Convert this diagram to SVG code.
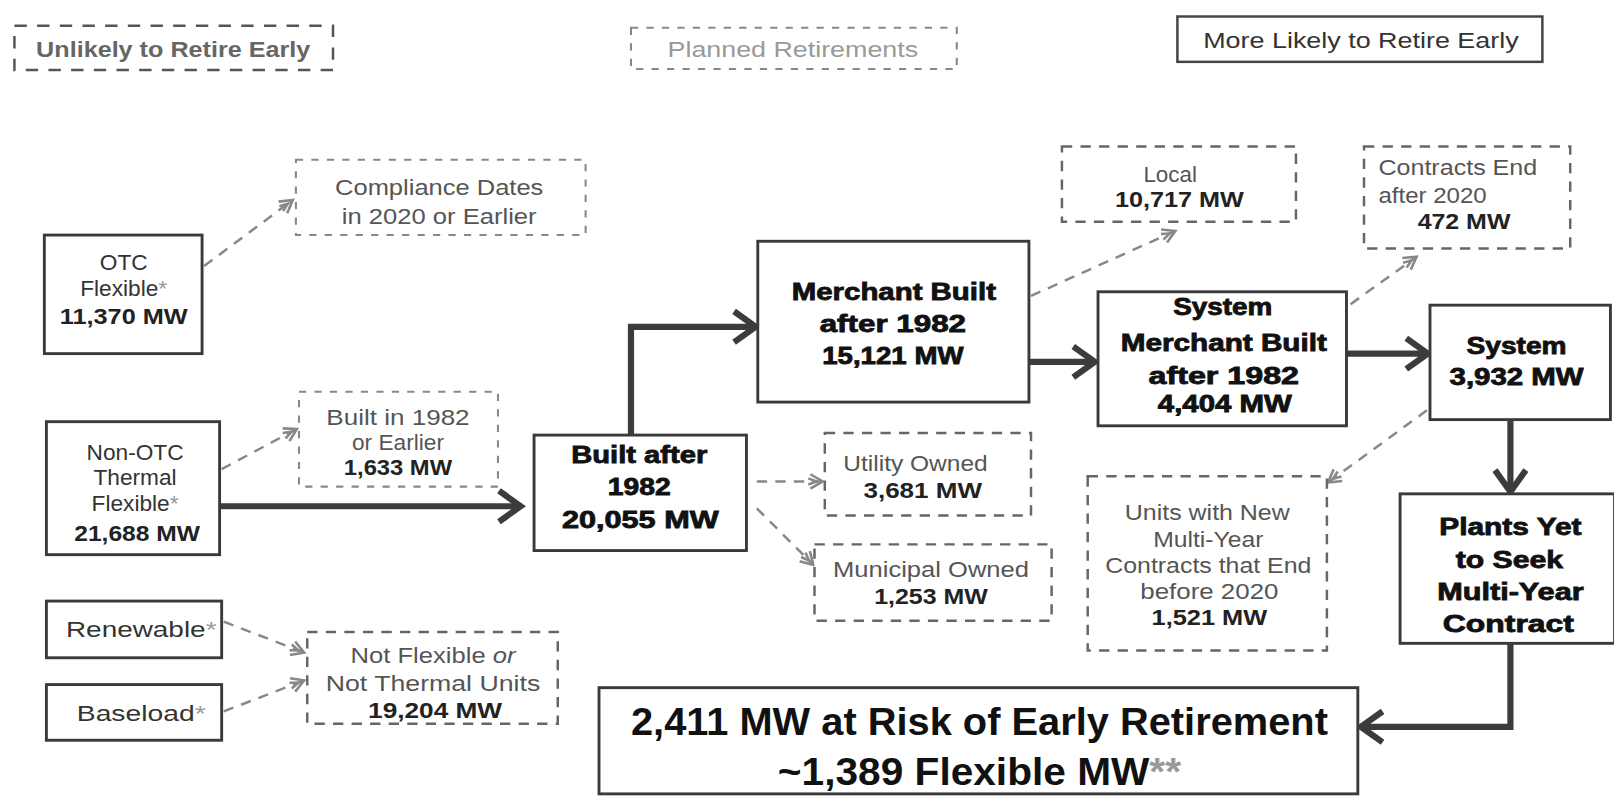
<svg xmlns="http://www.w3.org/2000/svg" width="1614" height="803" viewBox="0 0 1614 803">
<style>
text{font-family:"Liberation Sans",Arial,sans-serif;text-anchor:middle}
.solid{fill:#fff;stroke:#3a3a3a;stroke-width:2.8}
.dash{fill:#fff;stroke:#666;stroke-width:2.4;stroke-dasharray:10 8}
.dashl{fill:#fff;stroke:#888;stroke-width:2;stroke-dasharray:7 8}
.b{font-weight:bold;fill:#111;font-size:23px;stroke:#111;stroke-width:0.8}
.g{fill:#555;font-size:22px}
.gb{fill:#222;font-size:22px;font-weight:bold}
.n{fill:#333;font-size:22px}
.ast{fill:#999;stroke:none}
.thick{fill:none;stroke:#3c3c3c;stroke-width:6}
.dl{fill:none;stroke:#888;stroke-width:2.4;stroke-dasharray:10 8}
</style>
<defs>
<marker id="ah" markerUnits="userSpaceOnUse" markerWidth="30" markerHeight="36" refX="25" refY="18" orient="auto">
<path d="M4,3 L25,18 L4,33" fill="none" stroke="#3c3c3c" stroke-width="6"/>
</marker>
<marker id="dh" markerUnits="userSpaceOnUse" markerWidth="20" markerHeight="20" refX="15" refY="10" orient="auto">
<path d="M3,3 L15,10 L3,17 M1,7 L9,10 L1,13" fill="none" stroke="#888" stroke-width="2.5"/>
</marker>
</defs>
<g transform="scale(1.031)">
<g id="legend-unlikely">
<rect x="14" y="25" width="309" height="43" fill="#fff" stroke="#555" stroke-width="2.4" stroke-dasharray="12 10"/>
<text x="168" y="55" textLength="266" lengthAdjust="spacingAndGlyphs" style="font-size:22px;font-weight:bold;fill:#666">Unlikely to Retire Early</text>
</g>
<g id="legend-planned">
<rect class="dashl" x="612" y="27" width="316" height="40"/>
<text x="769" y="55" textLength="243" lengthAdjust="spacingAndGlyphs" style="font-size:22px;fill:#999">Planned Retirements</text>
</g>
<g id="legend-likely">
<rect x="1142" y="16" width="354" height="44" fill="#fff" stroke="#444" stroke-width="2.4"/>
<text x="1320" y="47" textLength="306" lengthAdjust="spacingAndGlyphs" style="font-size:22px;fill:#333">More Likely to Retire Early</text>
</g>

<g id="connectors">
<line class="dl" x1="198" y1="258" x2="284" y2="194" marker-end="url(#dh)"/>
<line class="dl" x1="215" y1="455" x2="288" y2="416" marker-end="url(#dh)"/>
<line class="thick" x1="213" y1="491" x2="505" y2="491" marker-end="url(#ah)"/>
<polyline class="thick" points="612,422 612,317 733,317" marker-end="url(#ah)"/>
<line class="dl" x1="1000" y1="287" x2="1140" y2="224" marker-end="url(#dh)"/>
<line class="thick" x1="998" y1="351" x2="1062" y2="351" marker-end="url(#ah)"/>
<line class="dl" x1="1310" y1="295" x2="1374" y2="249" marker-end="url(#dh)"/>
<line class="thick" x1="1306" y1="343" x2="1385" y2="343" marker-end="url(#ah)"/>
<line class="dl" x1="1384" y1="398" x2="1288" y2="468" marker-end="url(#dh)"/>
<line class="thick" x1="1465" y1="407" x2="1465" y2="477" marker-end="url(#ah)"/>
<polyline class="thick" points="1465,624 1465,705 1320,705" marker-end="url(#ah)"/>
<line class="dl" x1="734" y1="467" x2="798" y2="467" marker-end="url(#dh)"/>
<line class="dl" x1="734" y1="493" x2="789" y2="548" marker-end="url(#dh)"/>
<line class="dl" x1="217" y1="603" x2="295" y2="633" marker-end="url(#dh)"/>
<line class="dl" x1="217" y1="690" x2="295" y2="660" marker-end="url(#dh)"/>
</g>

<g id="compliance">
<rect class="dashl" x="287" y="155" width="281" height="73"/>
<text class="g" x="426" y="189" textLength="202" lengthAdjust="spacingAndGlyphs">Compliance  Dates</text>
<text class="g" x="426" y="217" textLength="189" lengthAdjust="spacingAndGlyphs">in 2020 or Earlier</text>
</g>
<g id="otc">
<rect class="solid" x="43" y="228" width="153" height="115"/>
<text class="n" x="120" y="262">OTC</text>
<text class="n" x="120" y="287">Flexible<tspan class="ast">*</tspan></text>
<text class="gb" x="120" y="314" textLength="124" lengthAdjust="spacingAndGlyphs">11,370 MW</text>
</g>
<g id="built1982">
<rect class="dashl" x="290" y="380" width="193" height="92"/>
<text class="g" x="386" y="412" textLength="139" lengthAdjust="spacingAndGlyphs">Built in 1982</text>
<text class="g" x="386" y="436">or Earlier</text>
<text class="gb" x="386" y="461" textLength="105" lengthAdjust="spacingAndGlyphs">1,633 MW</text>
</g>
<g id="nonotc">
<rect class="solid" x="45" y="409" width="168" height="129"/>
<text class="n" x="131" y="446">Non-OTC</text>
<text class="n" x="131" y="470">Thermal</text>
<text class="n" x="131" y="496">Flexible<tspan class="ast">*</tspan></text>
<text class="gb" x="133" y="525" textLength="122" lengthAdjust="spacingAndGlyphs">21,688 MW</text>
</g>
<g id="builtafter">
<rect class="solid" x="518" y="422" width="206" height="112"/>
<text class="b" x="620" y="449" textLength="132" lengthAdjust="spacingAndGlyphs">Built after</text>
<text class="b" x="620" y="480" textLength="61" lengthAdjust="spacingAndGlyphs">1982</text>
<text class="b" x="621" y="512" textLength="152" lengthAdjust="spacingAndGlyphs">20,055  MW</text>
</g>
<g id="merchant">
<rect class="solid" x="735" y="234" width="263" height="156"/>
<text class="b" x="867" y="291" textLength="198" lengthAdjust="spacingAndGlyphs">Merchant  Built</text>
<text class="b" x="866" y="322" textLength="142" lengthAdjust="spacingAndGlyphs">after  1982</text>
<text class="b" x="866" y="353" textLength="137" lengthAdjust="spacingAndGlyphs">15,121  MW</text>
</g>
<g id="local">
<rect class="dash" x="1030" y="142" width="227" height="73"/>
<text class="g" x="1135" y="177" textLength="52" lengthAdjust="spacingAndGlyphs">Local</text>
<text class="gb" x="1144" y="201" textLength="125" lengthAdjust="spacingAndGlyphs">10,717 MW</text>
</g>
<g id="sysmerchant">
<rect class="solid" x="1065" y="283" width="241" height="130"/>
<text class="b" x="1186" y="306" textLength="96" lengthAdjust="spacingAndGlyphs">System</text>
<text class="b" x="1187" y="340" textLength="200" lengthAdjust="spacingAndGlyphs">Merchant  Built</text>
<text class="b" x="1187" y="372" textLength="146" lengthAdjust="spacingAndGlyphs">after  1982</text>
<text class="b" x="1188" y="400" textLength="130" lengthAdjust="spacingAndGlyphs">4,404  MW</text>
</g>
<g id="contracts">
<rect class="dash" x="1323" y="142" width="200" height="99"/>
<text class="g" x="1337" y="170" style="text-anchor:start" textLength="154" lengthAdjust="spacingAndGlyphs">Contracts End</text>
<text class="g" x="1337" y="197" style="text-anchor:start" textLength="105" lengthAdjust="spacingAndGlyphs">after 2020</text>
<text class="gb" x="1420" y="222" textLength="90" lengthAdjust="spacingAndGlyphs">472 MW</text>
</g>
<g id="system">
<rect class="solid" x="1387" y="296" width="175" height="111"/>
<text class="b" x="1471" y="343" textLength="97" lengthAdjust="spacingAndGlyphs">System</text>
<text class="b" x="1471" y="373" textLength="130" lengthAdjust="spacingAndGlyphs">3,932  MW</text>
</g>
<g id="units">
<rect class="dash" x="1055" y="462" width="232" height="169"/>
<text class="g" x="1171" y="504" textLength="160" lengthAdjust="spacingAndGlyphs">Units with New</text>
<text class="g" x="1172" y="531" textLength="107" lengthAdjust="spacingAndGlyphs">Multi-Year</text>
<text class="g" x="1172" y="556" textLength="200" lengthAdjust="spacingAndGlyphs">Contracts that End</text>
<text class="g" x="1173" y="581" textLength="134" lengthAdjust="spacingAndGlyphs">before 2020</text>
<text class="gb" x="1173" y="606" textLength="112" lengthAdjust="spacingAndGlyphs">1,521 MW</text>
</g>
<g id="plants">
<rect class="solid" x="1358" y="479" width="208" height="145"/>
<text class="b" x="1465" y="519" textLength="138" lengthAdjust="spacingAndGlyphs">Plants Yet</text>
<text class="b" x="1464" y="551" textLength="104" lengthAdjust="spacingAndGlyphs">to Seek</text>
<text class="b" x="1465" y="582" textLength="142" lengthAdjust="spacingAndGlyphs">Multi-Year</text>
<text class="b" x="1463" y="613" textLength="127" lengthAdjust="spacingAndGlyphs">Contract</text>
</g>
<g id="utility">
<rect class="dash" x="800" y="420" width="200" height="80"/>
<text class="g" x="888" y="457" textLength="140" lengthAdjust="spacingAndGlyphs">Utility Owned</text>
<text class="gb" x="895" y="483" textLength="115" lengthAdjust="spacingAndGlyphs">3,681 MW</text>
</g>
<g id="municipal">
<rect class="dash" x="790" y="528" width="230" height="74"/>
<text class="g" x="903" y="560" textLength="190" lengthAdjust="spacingAndGlyphs">Municipal Owned</text>
<text class="gb" x="903" y="586" textLength="110" lengthAdjust="spacingAndGlyphs">1,253 MW</text>
</g>
<g id="renewable">
<rect class="solid" x="45" y="583" width="170" height="55"/>
<text class="n" x="137" y="618" textLength="146" lengthAdjust="spacingAndGlyphs">Renewable<tspan class="ast">*</tspan></text>
</g>
<g id="baseload">
<rect class="solid" x="45" y="664" width="170" height="54"/>
<text class="n" x="137" y="699" textLength="125" lengthAdjust="spacingAndGlyphs">Baseload<tspan class="ast">*</tspan></text>
</g>
<g id="notflexible">
<rect class="dash" x="298" y="613" width="243" height="89"/>
<text class="g" x="420" y="643" textLength="160" lengthAdjust="spacingAndGlyphs">Not Flexible <tspan font-style="italic">or</tspan></text>
<text class="g" x="420" y="670" textLength="208" lengthAdjust="spacingAndGlyphs">Not Thermal Units</text>
<text class="gb" x="422" y="696" textLength="130" lengthAdjust="spacingAndGlyphs">19,204 MW</text>
</g>
<g id="risk">
<rect class="solid" x="581" y="667" width="736" height="103"/>
<text x="950" y="713" textLength="676" lengthAdjust="spacingAndGlyphs" style="font-size:37px;font-weight:bold;fill:#111">2,411 MW at Risk of Early Retirement</text>
<text x="950" y="761" textLength="391" lengthAdjust="spacingAndGlyphs" style="font-size:37px;font-weight:bold;fill:#111">~1,389 Flexible MW<tspan class="ast">**</tspan></text>
</g>
</g>
</svg>
